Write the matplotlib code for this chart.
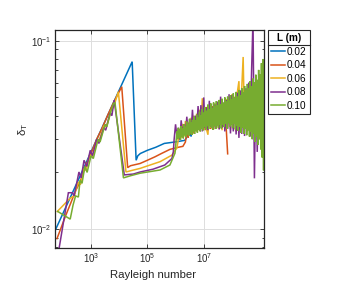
import matplotlib
matplotlib.use("Agg")
import matplotlib.pyplot as plt
from matplotlib.lines import Line2D
from matplotlib.ticker import LogLocator, NullLocator, NullFormatter
import numpy as np

plt.rcParams.update({"font.family": ["Liberation Sans", "DejaVu Sans"],
                     "mathtext.fontset": "custom",
                     "mathtext.rm": "Liberation Sans",
                     "mathtext.it": "Liberation Sans:italic",
                     "font.size": 7})

# L values and MATLAB default line colours
labels = ["0.02", "0.04", "0.06", "0.08", "0.10"]
colors = ["#0072BD", "#D95319", "#EDB120", "#7E2F8E", "#77AC30"]

# smooth part: log10(Ra) and delta_T
blue_x = [1.72, 2.5, 3.0, 3.5, 4.0, 4.46, 4.60, 4.66, 4.75, 5.0, 5.3, 5.6, 5.9, 6.1,
          6.33, 6.45, 6.50, 6.55, 6.60]
blue_y = [0.0098, 0.0176, 0.0257, 0.0375, 0.0547, 0.0774, 0.0232, 0.0245, 0.0252,
          0.0262, 0.0272, 0.0285, 0.0289, 0.0292, 0.0296, 0.0316, 0.0335, 0.0310, 0.0340]

orange_x = [1.79, 2.1, 2.3, 2.45, 2.6, 2.8, 3.0, 3.2, 3.4, 3.6, 3.8, 4.09, 4.30, 4.40,
            4.74, 5.0, 5.27, 5.5, 5.8, 6.1, 6.26, 6.35]
orange_y = [0.0089, 0.0118, 0.0140, 0.0160, 0.0176, 0.0215, 0.0252, 0.0300, 0.0345,
            0.0405, 0.0470, 0.0570, 0.0212, 0.0217, 0.0223, 0.0232, 0.0242, 0.0252,
            0.0265, 0.0272, 0.0275, 0.0290]

yellow_x = [1.80, 2.26, 2.40, 2.55, 2.62, 2.75, 2.82, 2.95, 3.05, 3.2, 3.3, 3.45, 3.55,
            3.7, 3.8, 3.97, 4.24, 4.4, 4.74, 5.1, 5.45, 5.87, 6.05]
yellow_y = [0.0124, 0.0146, 0.0150, 0.0178, 0.0172, 0.0210, 0.0205, 0.0248, 0.0243,
            0.0290, 0.0300, 0.0352, 0.0350, 0.0425, 0.0445, 0.0536, 0.0201, 0.0204,
            0.0210, 0.0219, 0.0228, 0.0247, 0.0270]

purple_x = [1.84, 2.195, 2.34, 2.40, 2.57, 2.65, 2.75, 2.85, 2.97, 3.05, 3.2, 3.28,
            3.45, 3.52, 3.68, 3.74, 3.82, 4.18, 4.5, 4.74, 5.2, 5.62, 5.87, 5.92]
purple_y = [0.0075, 0.0156, 0.0156, 0.0150, 0.0201, 0.0187, 0.0232, 0.0215, 0.0262,
            0.0245, 0.0300, 0.0285, 0.0345, 0.0335, 0.0415, 0.0400, 0.0484, 0.0194,
            0.0196, 0.0201, 0.0208, 0.0219, 0.0237, 0.0257]

green_x = [1.82, 2.26, 2.36, 2.45, 2.55, 2.61, 2.68, 2.78, 2.86, 3.0, 3.08, 3.25, 3.32,
           3.5, 3.56, 3.72, 3.80, 3.85, 4.15, 4.4, 4.74, 5.1, 5.45, 5.8, 5.98]
green_y = [0.0124, 0.0113, 0.0134, 0.0150, 0.0148, 0.0182, 0.0175, 0.0215, 0.0200,
           0.0245, 0.0237, 0.0300, 0.0290, 0.0360, 0.0350, 0.0430, 0.0465, 0.0470,
           0.0187, 0.0192, 0.0198, 0.0202, 0.0206, 0.0219, 0.0253]

# turbulent part: shared log10(Ra) sample grid (every 0.025 decade)
noise_x = [5.950, 5.975, 6.000, 6.025, 6.050, 6.075, 6.100, 6.125,
           6.150, 6.175, 6.200, 6.225, 6.250, 6.275, 6.300, 6.325,
           6.350, 6.375, 6.400, 6.425, 6.450, 6.475, 6.500, 6.525,
           6.550, 6.575, 6.600, 6.625, 6.650, 6.675, 6.700, 6.725,
           6.750, 6.775, 6.800, 6.825, 6.850, 6.875, 6.900, 6.925,
           6.950, 6.975, 7.000, 7.025, 7.050, 7.075, 7.100, 7.125,
           7.150, 7.175, 7.200, 7.225, 7.250, 7.275, 7.300, 7.325,
           7.350, 7.375, 7.400, 7.425, 7.450, 7.475, 7.500, 7.525,
           7.550, 7.575, 7.600, 7.625, 7.650, 7.675, 7.700, 7.725,
           7.750, 7.775, 7.800, 7.825, 7.850, 7.875, 7.900, 7.925,
           7.950, 7.975, 8.000, 8.025, 8.050, 8.075, 8.100, 8.125,
           8.150, 8.175, 8.200, 8.225, 8.250, 8.275, 8.300, 8.325,
           8.350, 8.375, 8.400, 8.425, 8.450, 8.475, 8.500, 8.525,
           8.550, 8.575, 8.600, 8.625, 8.650, 8.675, 8.700, 8.725,
           8.750, 8.775, 8.800, 8.825, 8.850, 8.875, 8.900, 8.925,
           8.950, 8.975, 9.000, 9.025, 9.050, 9.075, 9.100, 9.125,
           9.150]

# orange, yellow, purple sampled every 0.05 decade; green every 0.025
orange_noise_start = 6.40
orange_noise = [0.0330, 0.0305, 0.0365, 0.0318, 0.0380, 0.0322, 0.0395, 0.0330,
                0.0410, 0.0335, 0.0420, 0.0340, 0.0435, 0.0335, 0.0445, 0.0345,
                0.0430, 0.0340, 0.0450, 0.0348, 0.0440, 0.0342, 0.0460, 0.0350,
                0.0445, 0.0345, 0.0455, 0.0360, 0.0340, 0.0251]

yellow_noise_start = 6.10
yellow_noise = [0.0300, 0.0340, 0.0305, 0.0362, 0.0310, 0.0375, 0.0318, 0.0368,
                0.0325, 0.0390, 0.0320, 0.0400, 0.0330, 0.0410, 0.0335, 0.0430,
                0.0340, 0.0495, 0.0350, 0.0440, 0.0338, 0.0317, 0.0450, 0.0345,
                0.0440, 0.0338, 0.0465, 0.0350, 0.0450, 0.0340, 0.0470, 0.0335,
                0.0460, 0.0350, 0.0490, 0.0345, 0.0500, 0.0338, 0.0520, 0.0340,
                0.0505, 0.0330, 0.0540, 0.0610, 0.0335, 0.0560, 0.0820, 0.0340,
                0.0480]

purple_noise_start = 5.95
purple_noise = [0.0300, 0.0360, 0.0310, 0.0345, 0.0298, 0.0378, 0.0315, 0.0360,
                0.0320, 0.0395, 0.0318, 0.0385, 0.0325, 0.0430, 0.0330, 0.0400,
                0.0335, 0.0450, 0.0340, 0.0455, 0.0330, 0.0500, 0.0345, 0.0440,
                0.0335, 0.0480, 0.0350, 0.0445, 0.0340, 0.0460, 0.0348, 0.0475,
                0.0338, 0.0505, 0.0345, 0.0470, 0.0330, 0.0485, 0.0340, 0.0520,
                0.0322, 0.0515, 0.0330, 0.0500, 0.0318, 0.0530, 0.0305, 0.0545,
                0.0320, 0.0520, 0.0312, 0.0560, 0.0330, 0.0600, 0.0310, 0.0700,
                0.1300, 0.0186, 0.0640, 0.0257, 0.0580, 0.0300, 0.0520, 0.0330]

green_noise_start = 6.05
green_noise = [0.0330, 0.0300, 0.0345, 0.0305, 0.0338, 0.0298, 0.0352, 0.0310,
               0.0342, 0.0303, 0.0360, 0.0315, 0.0350, 0.0308, 0.0372, 0.0318,
               0.0362, 0.0312, 0.0385, 0.0322, 0.0368, 0.0316, 0.0380, 0.0328,
               0.0395, 0.0320, 0.0378, 0.0332, 0.0405, 0.0325, 0.0390, 0.0336,
               0.0420, 0.0330, 0.0402, 0.0342, 0.0435, 0.0334, 0.0415, 0.0348,
               0.0445, 0.0338, 0.0425, 0.0352, 0.0458, 0.0340, 0.0432, 0.0355,
               0.0465, 0.0345, 0.0440, 0.0336, 0.0470, 0.0352, 0.0448, 0.0340,
               0.0478, 0.0356, 0.0455, 0.0345, 0.0485, 0.0360, 0.0460, 0.0342,
               0.0492, 0.0358, 0.0468, 0.0348, 0.0500, 0.0362, 0.0475, 0.0340,
               0.0505, 0.0365, 0.0480, 0.0350, 0.0515, 0.0358, 0.0490, 0.0345,
               0.0525, 0.0362, 0.0498, 0.0338, 0.0535, 0.0355, 0.0505, 0.0332,
               0.0548, 0.0350, 0.0515, 0.0325, 0.0560, 0.0345, 0.0530, 0.0320,
               0.0575, 0.0340, 0.0545, 0.0315, 0.0590, 0.0335, 0.0560, 0.0310,
               0.0610, 0.0330, 0.0575, 0.0300, 0.0630, 0.0322, 0.0600, 0.0290,
               0.0660, 0.0310, 0.0620, 0.0280, 0.0700, 0.0300, 0.0660, 0.0265,
               0.0760, 0.0240, 0.0800, 0.0205, 0.0720]


def join(xs, ys, start=None, noise=None, step=1):
    xs, ys = list(xs), list(ys)
    if noise is not None:
        i0 = int(np.argmin(np.abs(np.array(noise_x) - start)))
        xs += noise_x[i0:i0 + step * len(noise):step]
        ys += noise
    return 10.0 ** np.array(xs), np.array(ys)


series = [join(blue_x, blue_y),
          join(orange_x, orange_y, orange_noise_start, orange_noise, 2),
          join(yellow_x, yellow_y, yellow_noise_start, yellow_noise, 2),
          join(purple_x, purple_y, purple_noise_start, purple_noise, 2),
          join(green_x, green_y, green_noise_start, green_noise, 1)]

fig = plt.figure(figsize=(3.47, 2.91), dpi=100)
ax = fig.add_axes([0.1585, 0.1478, 0.6023, 0.7491])

for (x, y), c, lab in zip(series, colors, labels):
    ax.plot(x, y, color=c, lw=1.1, label=lab, solid_joinstyle="miter")

ax.set_xscale("log")
ax.set_yscale("log")
ax.set_xlim(10 ** 1.72, 10 ** 9.14)
ax.set_ylim(0.00794, 0.114)
ax.set_xticks([1e3, 1e5, 1e7])
ax.xaxis.set_minor_locator(NullLocator())
ax.set_yticks([0.01, 0.1])
ax.yaxis.set_minor_locator(LogLocator(base=10, subs=np.arange(2, 10)))
ax.yaxis.set_minor_formatter(NullFormatter())
ax.tick_params(which="both", direction="in", top=True, right=True,
               colors="#262626", width=0.6)
ax.tick_params(which="major", length=3, labelsize=7, pad=2.5)
ax.tick_params(which="minor", length=1.8)
ax.grid(True, which="major", color="#dddddd", lw=0.7)
ax.set_axisbelow(True)
for s in ax.spines.values():
    s.set_linewidth(0.9)
    s.set_color("#262626")

ax.set_xlabel("Rayleigh number", fontsize=8.2, color="#262626")
ax.xaxis.set_label_coords(0.47, -0.1)
ax.set_ylabel(r"δ$_\mathregular{T}$", fontsize=8.2, color="#262626")
ax.yaxis.set_label_coords(-0.12, 0.546)

leg = ax.legend(loc="upper left", bbox_to_anchor=(0.772, 0.897),
                bbox_transform=fig.transFigure, borderaxespad=0,
                fontsize=7.2, title="L (m)", handlelength=1.45,
                handletextpad=0.15, labelspacing=0.36, borderpad=0.3,
                fancybox=False, framealpha=1, edgecolor="#262626")
leg.get_title().set_fontweight("bold")
leg.get_title().set_fontsize(7.2)
leg.get_frame().set_linewidth(0.8)

fig.canvas.draw()
lb = leg.get_window_extent().transformed(fig.transFigure.inverted())
tb = leg.get_title().get_window_extent().transformed(fig.transFigure.inverted())
ysep = tb.y0 - 0.008
fig.add_artist(Line2D([lb.x0, lb.x1], [ysep, ysep], transform=fig.transFigure,
                      color="#262626", lw=0.8))

fig.savefig("out.png", dpi=100)
